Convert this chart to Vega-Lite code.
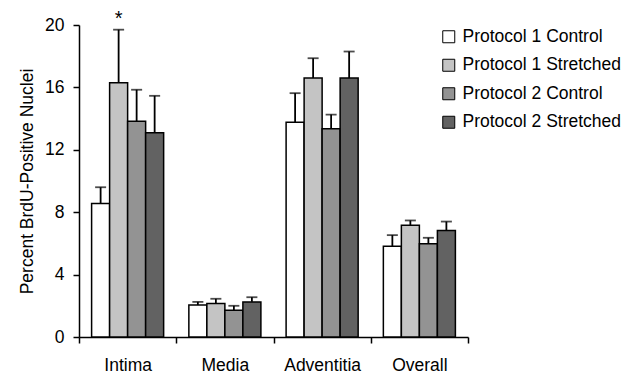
{
  "$schema": "https://vega.github.io/schema/vega-lite/v6.json",
  "autosize": "none",
  "width": 389,
  "height": 312,
  "padding": {"left": 79, "top": 25, "right": 174, "bottom": 37},
  "background": "white",
  "config": {
    "font": "Liberation Sans",
    "view": {"stroke": null},
    "axis": {"labelFont": "Liberation Sans", "titleFont": "Liberation Sans", "labelColor": "black", "titleColor": "black", "domainColor": "black", "tickColor": "black", "grid": false, "labelFontSize": 17.5, "titleFontSize": 17.5, "titleFontWeight": "normal", "domainWidth": 1.5, "tickWidth": 1.5, "tickSize": 6}
  },
  "data": {
    "values": [
      {"region": "Intima", "group": "Protocol 1 Control", "value": 8.56, "upper": 9.6, "star": ""},
      {"region": "Intima", "group": "Protocol 1 Stretched", "value": 16.3, "upper": 19.7, "star": "*"},
      {"region": "Intima", "group": "Protocol 2 Control", "value": 13.83, "upper": 15.85, "star": ""},
      {"region": "Intima", "group": "Protocol 2 Stretched", "value": 13.1, "upper": 15.46, "star": ""},
      {"region": "Media", "group": "Protocol 1 Control", "value": 2.05, "upper": 2.25, "star": ""},
      {"region": "Media", "group": "Protocol 1 Stretched", "value": 2.15, "upper": 2.45, "star": ""},
      {"region": "Media", "group": "Protocol 2 Control", "value": 1.72, "upper": 2.0, "star": ""},
      {"region": "Media", "group": "Protocol 2 Stretched", "value": 2.25, "upper": 2.55, "star": ""},
      {"region": "Adventitia", "group": "Protocol 1 Control", "value": 13.77, "upper": 15.63, "star": ""},
      {"region": "Adventitia", "group": "Protocol 1 Stretched", "value": 16.6, "upper": 17.87, "star": ""},
      {"region": "Adventitia", "group": "Protocol 2 Control", "value": 13.35, "upper": 14.26, "star": ""},
      {"region": "Adventitia", "group": "Protocol 2 Stretched", "value": 16.6, "upper": 18.3, "star": ""},
      {"region": "Overall", "group": "Protocol 1 Control", "value": 5.82, "upper": 6.53, "star": ""},
      {"region": "Overall", "group": "Protocol 1 Stretched", "value": 7.17, "upper": 7.47, "star": ""},
      {"region": "Overall", "group": "Protocol 2 Control", "value": 5.97, "upper": 6.36, "star": ""},
      {"region": "Overall", "group": "Protocol 2 Stretched", "value": 6.83, "upper": 7.4, "star": ""}
    ]
  },
  "encoding": {
    "x": {
      "field": "region", "type": "nominal",
      "sort": ["Intima", "Media", "Adventitia", "Overall"],
      "scale": {"paddingInner": 0, "paddingOuter": 0},
      "axis": {"title": null, "labelAngle": 0, "tickBand": "extent", "labelPadding": 13}
    },
    "xOffset": {
      "field": "group", "type": "nominal",
      "sort": ["Protocol 1 Control", "Protocol 1 Stretched", "Protocol 2 Control", "Protocol 2 Stretched"],
      "scale": {"paddingInner": 0, "paddingOuter": 0.7}
    },
    "y": {
      "field": "value", "type": "quantitative",
      "scale": {"domain": [0, 20], "nice": false},
      "axis": {"title": "Percent BrdU-Positive Nuclei", "titlePadding": 8, "values": [0, 4, 8, 12, 16, 20], "labelPadding": 9}
    }
  },
  "layer": [
    {
      "mark": {"type": "rule", "stroke": "black", "strokeWidth": 1.8},
      "encoding": {
        "y2": {"field": "upper"}
      }
    },
    {
      "mark": {"type": "tick", "color": "black", "size": 11, "thickness": 1.8},
      "encoding": {
        "y": {"field": "upper", "type": "quantitative"}
      }
    },
    {
      "mark": {"type": "bar", "stroke": "black", "strokeWidth": 1.5},
      "encoding": {
        "fill": {
          "field": "group", "type": "nominal",
          "sort": ["Protocol 1 Control", "Protocol 1 Stretched", "Protocol 2 Control", "Protocol 2 Stretched"],
          "scale": {"range": ["#ffffff", "#c4c4c4", "#939393", "#626262"]},
          "legend": {
            "title": null, "orient": "none", "legendX": 361, "legendY": 3,
            "symbolType": "square", "symbolSize": 144, "symbolStrokeColor": "black", "symbolStrokeWidth": 1,
            "labelFontSize": 17.5, "labelColor": "black", "labelFont": "Liberation Sans", "labelOffset": 5, "rowPadding": 9.5
          }
        }
      }
    },
    {
      "mark": {"type": "text", "fontSize": 20, "dy": -5, "baseline": "alphabetic", "color": "black"},
      "encoding": {
        "y": {"field": "upper", "type": "quantitative"},
        "text": {"field": "star"}
      }
    }
  ]
}
